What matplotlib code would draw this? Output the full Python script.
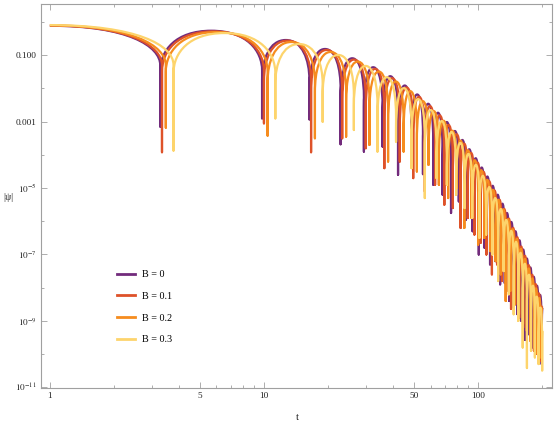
import numpy as np
import matplotlib
matplotlib.use("Agg")
import matplotlib.pyplot as plt
from matplotlib.path import Path
from matplotlib.patches import PathPatch
from matplotlib.lines import Line2D
from matplotlib.ticker import FixedLocator, FixedFormatter, NullFormatter

plt.rcParams['font.family'] = ['Liberation Serif', 'DejaVu Serif']
plt.rcParams['mathtext.fontset'] = 'stix'

# --- data ---
# each curve: start value at t=1, zeros of psi (t), depth of the dip drawn at each zero (log10),
# height of each lobe between two zeros (log10), end value at t=200 (log10)
labels = ["B = 0", "B = 0.1", "B = 0.2", "B = 0.3"]
colors = ["#722B7C", "#DE5229", "#F68C1E", "#FDD46C"]

t_start = 1.0
t_end = 200.0

start_B0 = -0.11
zeros_B0 = [3.28, 9.8, 16.3, 22.8, 29.3, 35.8, 42.3, 48.8, 55.3, 61.8, 68.3, 74.8, 81.3, 87.8,
            94.3, 100.8, 107.3, 113.8, 120.3, 126.8, 133.3, 139.8, 146.3, 152.8, 159.3, 165.8,
            172.3, 178.8, 185.3, 191.8, 198.3]
dips_B0 = [-3.15, -2.90, -2.93, -3.68, -3.90, -3.75, -4.60, -4.10, -4.58, -4.90, -5.20, -5.75,
           -5.40, -5.95, -6.30, -7.00, -6.80, -7.30, -7.20, -7.90, -7.86, -8.40, -8.60, -8.80,
           -9.00, -9.57, -9.40, -9.80, -10.00, -10.10, -10.30]
peaks_B0 = [-0.26, -0.54, -0.81, -1.09, -1.36, -1.63, -1.91, -2.18, -2.46, -2.73, -3.01, -3.28,
            -3.55, -3.83, -4.10, -4.38, -4.65, -4.93, -5.20, -5.47, -5.75, -6.02, -6.30, -6.57,
            -6.85, -7.12, -7.39, -7.67, -7.94, -8.22]
end_B0 = -8.60

start_B1 = -0.105
zeros_B1 = [3.34, 10.0, 16.6, 23.2, 29.9, 36.5, 43.1, 49.8, 56.4, 63.0, 69.6, 76.3, 82.9, 89.5,
            96.2, 102.8, 109.4, 116.1, 122.7, 129.3, 135.9, 142.6, 149.2, 155.8, 162.5, 169.1,
            175.7, 182.4, 189.0, 195.6]
dips_B1 = [-3.92, -3.05, -3.92, -3.50, -3.80, -4.40, -4.20, -4.70, -5.10, -4.90, -5.50, -5.60,
           -6.20, -5.90, -6.40, -6.65, -7.00, -7.60, -7.30, -7.80, -8.10, -8.64, -8.50, -8.90,
           -9.20, -9.30, -9.60, -9.90, -10.00, -10.20]
peaks_B1 = [-0.28, -0.56, -0.84, -1.13, -1.41, -1.69, -1.97, -2.25, -2.53, -2.81, -3.10, -3.38,
            -3.66, -3.94, -4.23, -4.51, -4.79, -5.07, -5.35, -5.63, -5.92, -6.20, -6.48, -6.76,
            -7.04, -7.32, -7.61, -7.89, -8.17]
end_B1 = -8.55

start_B2 = -0.10
zeros_B2 = [3.48, 10.4, 17.3, 24.2, 31.1, 38.0, 44.9, 51.8, 58.7, 65.6, 72.5, 79.4, 86.3, 93.2,
            100.1, 107.0, 113.9, 120.8, 127.7, 134.6, 141.5, 148.4, 155.3, 162.2, 169.1, 176.0,
            182.9, 189.8, 196.7]
dips_B2 = [-3.18, -3.42, -3.50, -3.45, -3.70, -4.20, -3.90, -4.50, -4.30, -4.90, -5.30, -5.00,
           -6.20, -5.90, -6.70, -6.50, -6.90, -7.20, -7.60, -8.40, -8.10, -8.50, -8.80, -9.10,
           -9.30, -9.60, -9.80, -10.00, -10.10]
peaks_B2 = [-0.30, -0.60, -0.90, -1.19, -1.49, -1.79, -2.08, -2.38, -2.68, -2.97, -3.27, -3.57,
            -3.86, -4.16, -4.46, -4.75, -5.05, -5.35, -5.64, -5.94, -6.24, -6.53, -6.83, -7.13,
            -7.42, -7.72, -8.02, -8.31]
end_B2 = -8.60

start_B3 = -0.09
zeros_B3 = [3.78, 11.3, 18.8, 26.3, 33.9, 41.4, 48.9, 56.4, 64.0, 71.5, 79.0, 86.5, 94.0, 101.5,
            109.1, 116.6, 124.1, 131.6, 139.2, 146.7, 154.2, 161.7, 169.2, 176.8, 184.3, 191.8,
            199.3]
dips_B3 = [-3.87, -2.90, -3.00, -3.25, -3.90, -3.60, -4.40, -5.30, -4.70, -4.90, -5.20, -5.60,
           -5.90, -6.50, -6.40, -7.00, -7.80, -7.50, -8.20, -8.80, -9.00, -9.80, -10.42, -9.90,
           -10.10, -10.30, -10.00]
peaks_B3 = [-0.33, -0.66, -0.99, -1.32, -1.66, -1.99, -2.32, -2.65, -2.98, -3.31, -3.64, -3.97,
            -4.30, -4.63, -4.97, -5.30, -5.63, -5.96, -6.29, -6.62, -6.95, -7.28, -7.61, -7.94,
            -8.27, -8.60]
end_B3 = -9.30

curves = [
    (start_B0, zeros_B0, dips_B0, peaks_B0, end_B0),
    (start_B1, zeros_B1, dips_B1, peaks_B1, end_B1),
    (start_B2, zeros_B2, dips_B2, peaks_B2, end_B2),
    (start_B3, zeros_B3, dips_B3, peaks_B3, end_B3),
]

x_major = [1, 5, 10, 50, 100]
x_minor = [2, 3, 4, 6, 7, 8, 9, 20, 30, 40, 60, 70, 80, 90, 200]
y_major = [1e-1, 1e-3, 1e-5, 1e-7, 1e-9, 1e-11]
y_major_labels = ["0.100", "0.001", r"$10^{-5}$", r"$10^{-7}$", r"$10^{-9}$", r"$10^{-11}$"]
y_minor = [1, 1e-2, 1e-4, 1e-6, 1e-8, 1e-10]


def arch_path(start, zeros, dips, peaks, end):
    # lobes drawn as bezier arches between the read points (log-log space)
    X0, X1 = np.log10(t_start), np.log10(t_end)
    verts = [(X0, start)]
    codes = [Path.MOVETO]
    ax_, ay = X0, start
    for i, z in enumerate(zeros):
        xz = np.log10(z)
        verts += [(xz + 0.3 * (ax_ - xz), ay), (xz, ay - 0.6), (xz, ay - 1.2)]
        codes += [Path.CURVE4] * 3
        verts.append((xz, dips[i]))
        codes.append(Path.LINETO)
        if i + 1 < len(zeros):
            nx, ny = (xz + np.log10(zeros[i + 1])) / 2, peaks[i]
        else:
            nx, ny = X1, end
        verts.append((xz, ny - 1.2))
        codes.append(Path.LINETO)
        verts += [(xz, ny - 0.6), (xz + 0.3 * (nx - xz), ny), (nx, ny)]
        codes += [Path.CURVE4] * 3
        ax_, ay = nx, ny
    verts = 10 ** np.array(verts)
    return Path(verts, codes)


fig = plt.figure(figsize=(5.56, 4.25), dpi=100)
ax = fig.add_axes([0.073, 0.087, 0.92, 0.9035])
ax.set_xscale('log')
ax.set_yscale('log')
ax.set_xlim(0.905, 221.8)
ax.set_ylim(9.5e-12, 3.5)

for (start, zeros, dips, peaks, end), c in zip(curves, colors):
    patch = PathPatch(arch_path(start, zeros, dips, peaks, end), fill=False, edgecolor=c,
                      lw=1.6, capstyle='butt', joinstyle='round')
    ax.add_patch(patch)

# frame and ticks, Mathematica style
for s in ax.spines.values():
    s.set_color('#A0A0A0')
    s.set_linewidth(0.8)
ax.xaxis.set_major_locator(FixedLocator(x_major))
ax.xaxis.set_major_formatter(FixedFormatter([str(v) for v in x_major]))
ax.xaxis.set_minor_locator(FixedLocator(x_minor))
ax.xaxis.set_minor_formatter(NullFormatter())
ax.yaxis.set_major_locator(FixedLocator(y_major))
ax.yaxis.set_major_formatter(FixedFormatter(y_major_labels))
ax.yaxis.set_minor_locator(FixedLocator(y_minor))
ax.yaxis.set_minor_formatter(NullFormatter())
ax.tick_params(which='both', direction='in', top=True, right=True, color='#A0A0A0',
               width=0.6, labelsize=6.7, labelcolor='#222222', pad=3)
ax.tick_params(which='major', length=4.5)
ax.tick_params(which='minor', length=2.5)

fig.text(8 / 556, 1 - 197 / 425, '|ψ|', fontsize=7, ha='center', va='center', color='#222222')
fig.text(297 / 556, 1 - 418 / 425, 't', fontsize=7.5, ha='center', va='center', color='#222222')

handles = [Line2D([], [], color=c, lw=2.0) for c in colors]
ax.legend(handles, labels, loc='upper left', bbox_to_anchor=(117 / 556, 1 - 270 / 425),
          bbox_transform=fig.transFigure, frameon=False, fontsize=7.3, handlelength=1.75,
          handletextpad=0.7, labelspacing=1.25, borderpad=0, borderaxespad=0)

fig.savefig("out.png", dpi=100)
